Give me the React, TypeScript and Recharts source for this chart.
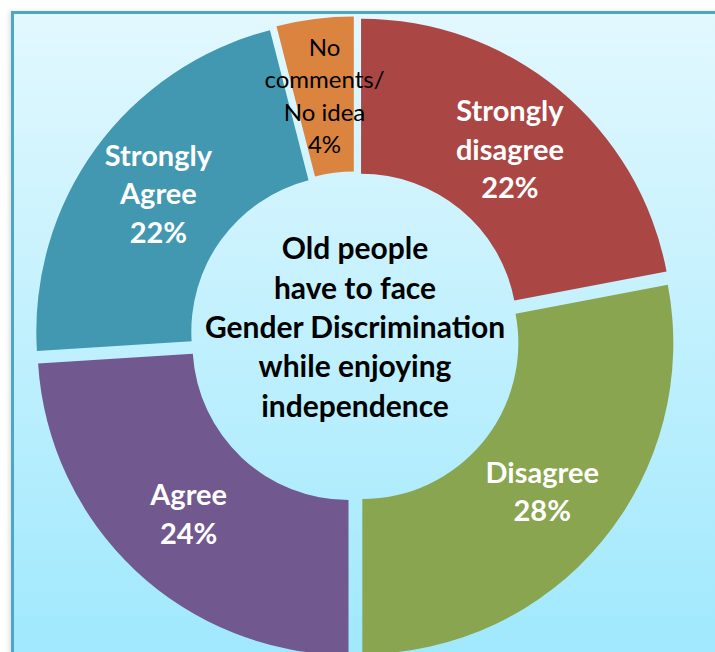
import React from "react";
import { PieChart, Pie, Cell, Sector } from "recharts";

const categories = ["Strongly disagree", "Disagree", "Agree", "Strongly Agree", "No comments/ No idea"];
const shares = [22, 28, 24, 22, 4];
const labelLines = [
  ["Strongly", "disagree"],
  ["Disagree"],
  ["Agree"],
  ["Strongly", "Agree"],
  ["No", "comments/", "No idea"]
];
const sliceColors = ["#aa4644", "#8aa54f", "#71588f", "#4298b0", "#db843f"];
const centerTitle = ["Old people", "have to face", "Gender Discrimination", "while enjoying", "independence"];

const data = categories.map((name, i) => ({ name, value: shares[i] }));

const RAD = Math.PI / 180;
const EXPLODE = 9.5; // every slice pulled out a little, like the source chart
const CX = 355;
const CY = 337;
const FONT = "Lato, Carlito, Calibri, sans-serif";

function ExplodedSector(props: any) {
  const { cx, cy, midAngle, innerRadius, outerRadius, startAngle, endAngle, fill } = props;
  const dx = EXPLODE * Math.cos(-midAngle * RAD);
  const dy = EXPLODE * Math.sin(-midAngle * RAD);
  return (
    <Sector
      cx={cx + dx}
      cy={cy + dy}
      innerRadius={innerRadius}
      outerRadius={outerRadius}
      startAngle={startAngle}
      endAngle={endAngle}
      fill={fill}
      stroke="none"
    />
  );
}

function SliceLabel(props: any) {
  const { cx, cy, midAngle, innerRadius, outerRadius, index, value } = props;
  const r = (innerRadius + outerRadius) / 2 + EXPLODE;
  const x = cx + r * Math.cos(-midAngle * RAD);
  const y = cy + r * Math.sin(-midAngle * RAD);
  const small = value < 10;
  const lines = [...labelLines[index], `${value}%`];
  const size = small ? 24 : 29;
  const lh = small ? 32.5 : 38.5;
  const first = y - ((lines.length - 1) * lh) / 2 + size * 0.35;
  return (
    <text
      x={x}
      y={first}
      textAnchor="middle"
      fill={small ? "#000" : "#fff"}
      fontWeight={small ? 400 : 700}
      fontSize={size}
      fontFamily={FONT}
    >
      {lines.map((l, i) => (
        <tspan key={i} x={x} y={first + i * lh}>
          {l}
        </tspan>
      ))}
    </text>
  );
}

export default function App() {
  return (
    <div
      style={{
        position: "absolute",
        left: 0,
        top: 0,
        width: 715,
        height: 652,
        overflow: "hidden",
        background: "#fff"
      }}
    >
      <div
        style={{
          position: "absolute",
          left: 11,
          top: 11,
          width: 720,
          height: 660,
          border: "3px solid #4aa8c4",
          boxShadow: "-2px 0 4px rgba(0,0,0,0.12)",
          background: "linear-gradient(#e2f8fe, #9ee8fd)"
        }}
      />
      <div style={{ position: "absolute", left: 0, top: 0 }}>
        <PieChart width={715} height={652} margin={{ top: 0, right: 0, bottom: 0, left: 0 }}>
          <Pie
            data={data}
            dataKey="value"
            nameKey="name"
            cx={CX}
            cy={CY}
            innerRadius={156}
            outerRadius={311}
            startAngle={90}
            endAngle={-270}
            stroke="none"
            shape={ExplodedSector}
            inactiveShape={ExplodedSector}
            label={SliceLabel}
            labelLine={false}
            isAnimationActive={false}
          >
            {data.map((d, i) => (
              <Cell key={d.name} fill={sliceColors[i]} />
            ))}
          </Pie>
          <text textAnchor="middle" fontFamily={FONT} fontWeight={700} fontSize={30} fill="#000">
            {centerTitle.map((l, i) => (
              <tspan key={i} x={CX} y={CY + 1 + (i - 2) * 39.3}>
                {l}
              </tspan>
            ))}
          </text>
        </PieChart>
      </div>
    </div>
  );
}
